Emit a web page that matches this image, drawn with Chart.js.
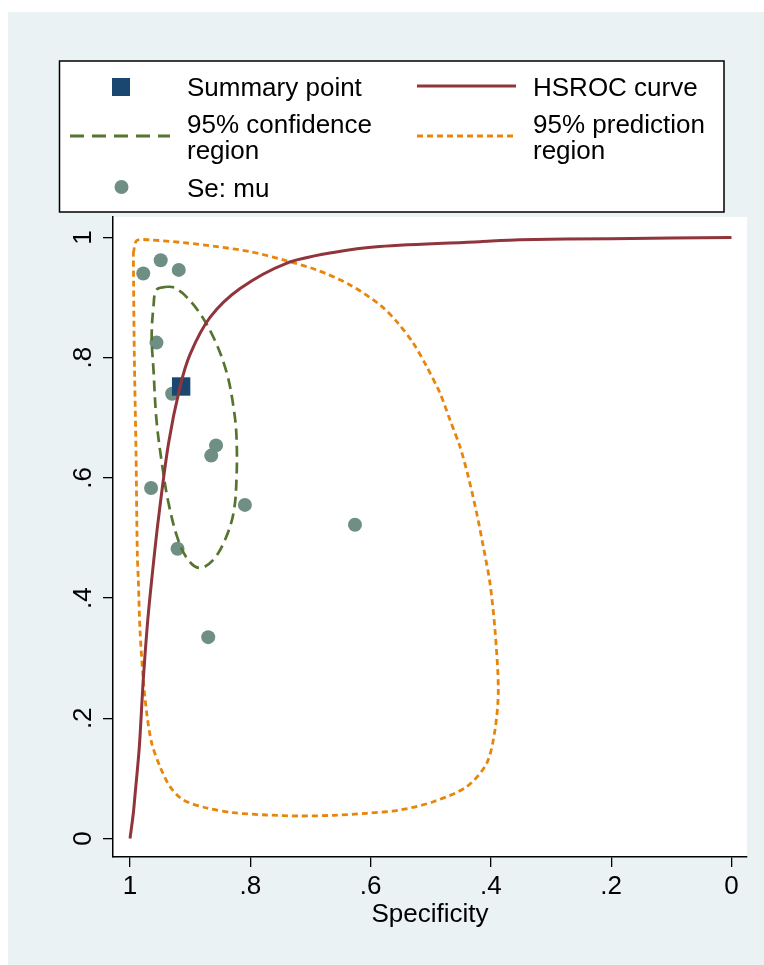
<!DOCTYPE html>
<html>
<head>
<meta charset="utf-8">
<script src="https://cdn.jsdelivr.net/npm/chart.js@4.4.1/dist/chart.umd.min.js"></script>
<style>
  html, body { margin: 0; padding: 0; background: #fff; }
  canvas { display: block; }
</style>
</head>
<body>
<canvas id="grafico" width="764" height="965"></canvas>
<script>
/* ============================================================
   SROC plot (Stata style) - Specificity on a reversed x axis,
   Sensitivity on y.
   ============================================================ */

// individual studies (Se: mu)
const studySpec = [0.978, 0.949, 0.919, 0.956, 0.930, 0.857, 0.865, 0.965, 0.809, 0.921, 0.626, 0.870];
const studySens = [0.940, 0.962, 0.946, 0.825, 0.740, 0.654, 0.637, 0.583, 0.555, 0.482, 0.522, 0.335];

// summary point
const summarySpec = [0.915];
const summarySens = [0.752];

// HSROC curve
const hsrocSpec = [1.000, 0.9945, 0.992, 0.9845, 0.978, 0.971, 0.964, 0.953, 0.936, 0.917, 0.900, 0.867, 0.817, 0.740, 0.662, 0.585, 0.418, 0.352, 0.200, 0.000];
const hsrocSens = [0.000, 0.042, 0.069, 0.153, 0.264, 0.358, 0.430, 0.530, 0.657, 0.751, 0.806, 0.867, 0.915, 0.957, 0.975, 0.985, 0.993, 0.996, 0.998, 1.000];

// 95% confidence region
const confSpec = [0.939, 0.956, 0.961, 0.964, 0.961, 0.956, 0.947, 0.936, 0.920, 0.903, 0.884, 0.862, 0.842, 0.828, 0.823, 0.823, 0.828, 0.839, 0.859, 0.884, 0.909, 0.928, 0.939];
const confSens = [0.918, 0.913, 0.885, 0.835, 0.780, 0.696, 0.624, 0.558, 0.497, 0.463, 0.450, 0.463, 0.497, 0.541, 0.597, 0.669, 0.718, 0.774, 0.829, 0.874, 0.904, 0.917, 0.918];

// 95% prediction region
const predSpec = [0.9945, 0.9889, 0.9667, 0.9114, 0.8559, 0.8005, 0.7451, 0.6896, 0.6342, 0.5844, 0.5566, 0.5290, 0.5067, 0.4846, 0.4680, 0.4514, 0.4376, 0.4236, 0.4126, 0.4015, 0.3932, 0.3877, 0.3932, 0.4070, 0.4403, 0.4958, 0.5511, 0.6065, 0.6620, 0.7174, 0.7727, 0.8283, 0.8725, 0.9114, 0.9335, 0.9501, 0.9639, 0.9722, 0.9779, 0.9834, 0.9862, 0.9879, 0.9900, 0.9929, 0.9945];
const predSens = [0.9737, 0.9947, 0.9958, 0.9913, 0.9847, 0.9764, 0.9626, 0.9459, 0.9210, 0.8877, 0.8599, 0.8240, 0.7850, 0.7408, 0.6963, 0.6519, 0.6020, 0.5411, 0.4855, 0.4246, 0.3469, 0.2471, 0.1805, 0.1251, 0.0862, 0.0612, 0.0474, 0.0419, 0.0386, 0.0374, 0.0391, 0.0429, 0.0507, 0.0641, 0.0862, 0.1195, 0.1584, 0.2083, 0.2637, 0.3469, 0.4301, 0.4745, 0.6409, 0.8073, 0.9737];

// axes
const axisTicks = [0, 0.2, 0.4, 0.6, 0.8, 1];
const axisTickLabels = ['0', '.2', '.4', '.6', '.8', '1'];
const xTitle = 'Specificity';

// legend texts (each entry can have several lines)
const legendTexts = [['Summary point'], ['HSROC curve'], ['95% confidence', 'region'], ['95% prediction', 'region'], ['Se: mu']];

const FONT = "'Liberation Sans', Arial, Helvetica, sans-serif";
const FONT_SIZE = 26;
const COLOR_BG = '#EAF2F3';
const COLOR_STUDY = '#6F8F84';
const COLOR_SUMMARY = '#1A476F';
const COLOR_HSROC = '#90353B';
const COLOR_CONF = '#55752F';
const COLOR_PRED = '#E8850C';

const pares = (xs, ys) => xs.map((x, i) => ({ x, y: ys[i] }));
const tickLabel = v => axisTickLabels[axisTicks.findIndex(t => Math.abs(t - v) < 1e-9)] ?? '';

// background: light outer region + white plot area
const fundoPlugin = {
  id: 'fundo',
  beforeDraw(chart) {
    const { ctx, chartArea: a } = chart;
    ctx.save();
    ctx.fillStyle = '#fff';
    ctx.fillRect(0, 0, chart.width, chart.height);
    ctx.fillStyle = COLOR_BG;
    ctx.fillRect(8, 12, chart.width - 8, chart.height - 12);
    ctx.fillStyle = '#fff';
    ctx.fillRect(a.left, a.top, a.right - a.left, a.bottom - a.top);
    ctx.restore();
  }
};

// y tick labels rotated like Stata (read bottom to top)
const yLabelsPlugin = {
  id: 'yLabels',
  afterDraw(chart) {
    const { ctx } = chart;
    const y = chart.scales.y;
    ctx.save();
    ctx.fillStyle = '#000';
    ctx.font = `${FONT_SIZE}px ${FONT}`;
    ctx.textAlign = 'center';
    ctx.textBaseline = 'middle';
    axisTicks.forEach(v => {
      ctx.save();
      ctx.translate(84, y.getPixelForValue(v));
      ctx.rotate(-Math.PI / 2);
      ctx.fillText(tickLabel(v), 0, 0);
      ctx.restore();
    });
    ctx.restore();
  }
};

// legend box on top, drawn by hand (two columns, wrapped labels)
const legendaPlugin = {
  id: 'legenda',
  afterDraw(chart) {
    const { ctx } = chart;
    ctx.save();
    ctx.fillStyle = '#fff';
    ctx.fillRect(59.5, 61, 664.5, 151);
    ctx.strokeStyle = '#000';
    ctx.lineWidth = 1.5;
    ctx.strokeRect(59.5, 61, 664.5, 151);

    // symbols
    ctx.fillStyle = COLOR_SUMMARY;
    ctx.fillRect(112, 78, 18, 18);

    ctx.strokeStyle = COLOR_HSROC;
    ctx.lineWidth = 3;
    ctx.beginPath(); ctx.moveTo(417, 86); ctx.lineTo(516, 86); ctx.stroke();

    ctx.strokeStyle = COLOR_CONF;
    ctx.setLineDash([14, 8]);
    ctx.beginPath(); ctx.moveTo(70, 136); ctx.lineTo(170, 136); ctx.stroke();

    ctx.strokeStyle = COLOR_PRED;
    ctx.setLineDash([6, 4]);
    ctx.beginPath(); ctx.moveTo(417, 136); ctx.lineTo(516, 136); ctx.stroke();
    ctx.setLineDash([]);

    ctx.fillStyle = COLOR_STUDY;
    ctx.beginPath(); ctx.arc(121.5, 187, 7, 0, Math.PI * 2); ctx.fill();

    // texts
    ctx.fillStyle = '#000';
    ctx.font = `${FONT_SIZE}px ${FONT}`;
    ctx.textAlign = 'left';
    ctx.textBaseline = 'alphabetic';
    const posicoes = [[187, 96], [533, 96], [187, 133], [533, 133], [187, 197]];
    legendTexts.forEach((linhas, i) => {
      linhas.forEach((t, k) => ctx.fillText(t, posicoes[i][0], posicoes[i][1] + k * 26));
    });
    ctx.restore();
  }
};

new Chart(document.getElementById('grafico'), {
  type: 'scatter',
  data: {
    datasets: [
      { label: 'HSROC curve', data: pares(hsrocSpec, hsrocSens), showLine: true, borderColor: COLOR_HSROC, borderWidth: 3, pointRadius: 0, tension: 0.3 },
      { label: '95% prediction region', data: pares(predSpec, predSens), showLine: true, borderColor: COLOR_PRED, borderWidth: 2.8, borderDash: [6, 4], pointRadius: 0, tension: 0.3 },
      { label: '95% confidence region', data: pares(confSpec, confSens), showLine: true, borderColor: COLOR_CONF, borderWidth: 2.7, borderDash: [11, 6], pointRadius: 0, tension: 0.35 },
      { label: 'Summary point', data: pares(summarySpec, summarySens), pointStyle: 'rect', pointRadius: 13, backgroundColor: COLOR_SUMMARY, borderWidth: 0 },
      { label: 'Se: mu', data: pares(studySpec, studySens), pointRadius: 7, backgroundColor: COLOR_STUDY, borderWidth: 0 }
    ]
  },
  options: {
    responsive: false,
    animation: false,
    devicePixelRatio: 1,
    layout: { padding: { left: 0, top: 217, right: 17, bottom: 0 } },
    plugins: { legend: { display: false }, tooltip: { enabled: false } },
    scales: {
      x: {
        type: 'linear',
        reverse: true,
        min: -0.0258,
        max: 1.0283,
        afterBuildTicks: s => { s.ticks = axisTicks.map(v => ({ value: v })); },
        afterFit: s => { s.height = 108; },
        ticks: { callback: v => tickLabel(v), color: '#000', font: { family: FONT, size: FONT_SIZE }, padding: 4, maxRotation: 0 },
        grid: { drawOnChartArea: false, drawTicks: true, tickLength: 10, color: '#000', lineWidth: 1.3 },
        border: { display: true, color: '#000', width: 1.5 },
        title: { display: true, text: xTitle, color: '#000', font: { family: FONT, size: FONT_SIZE }, padding: { top: 0, bottom: 35 } }
      },
      y: {
        type: 'linear',
        min: -0.0308,
        max: 1.034,
        afterBuildTicks: s => { s.ticks = axisTicks.map(v => ({ value: v })); },
        afterFit: s => { s.width = 113; },
        ticks: { display: false },
        grid: { drawOnChartArea: false, drawTicks: true, tickLength: 10, color: '#000', lineWidth: 1.3 },
        border: { display: true, color: '#000', width: 1.5 }
      }
    }
  },
  plugins: [fundoPlugin, yLabelsPlugin, legendaPlugin]
});
</script>
</body>
</html>
